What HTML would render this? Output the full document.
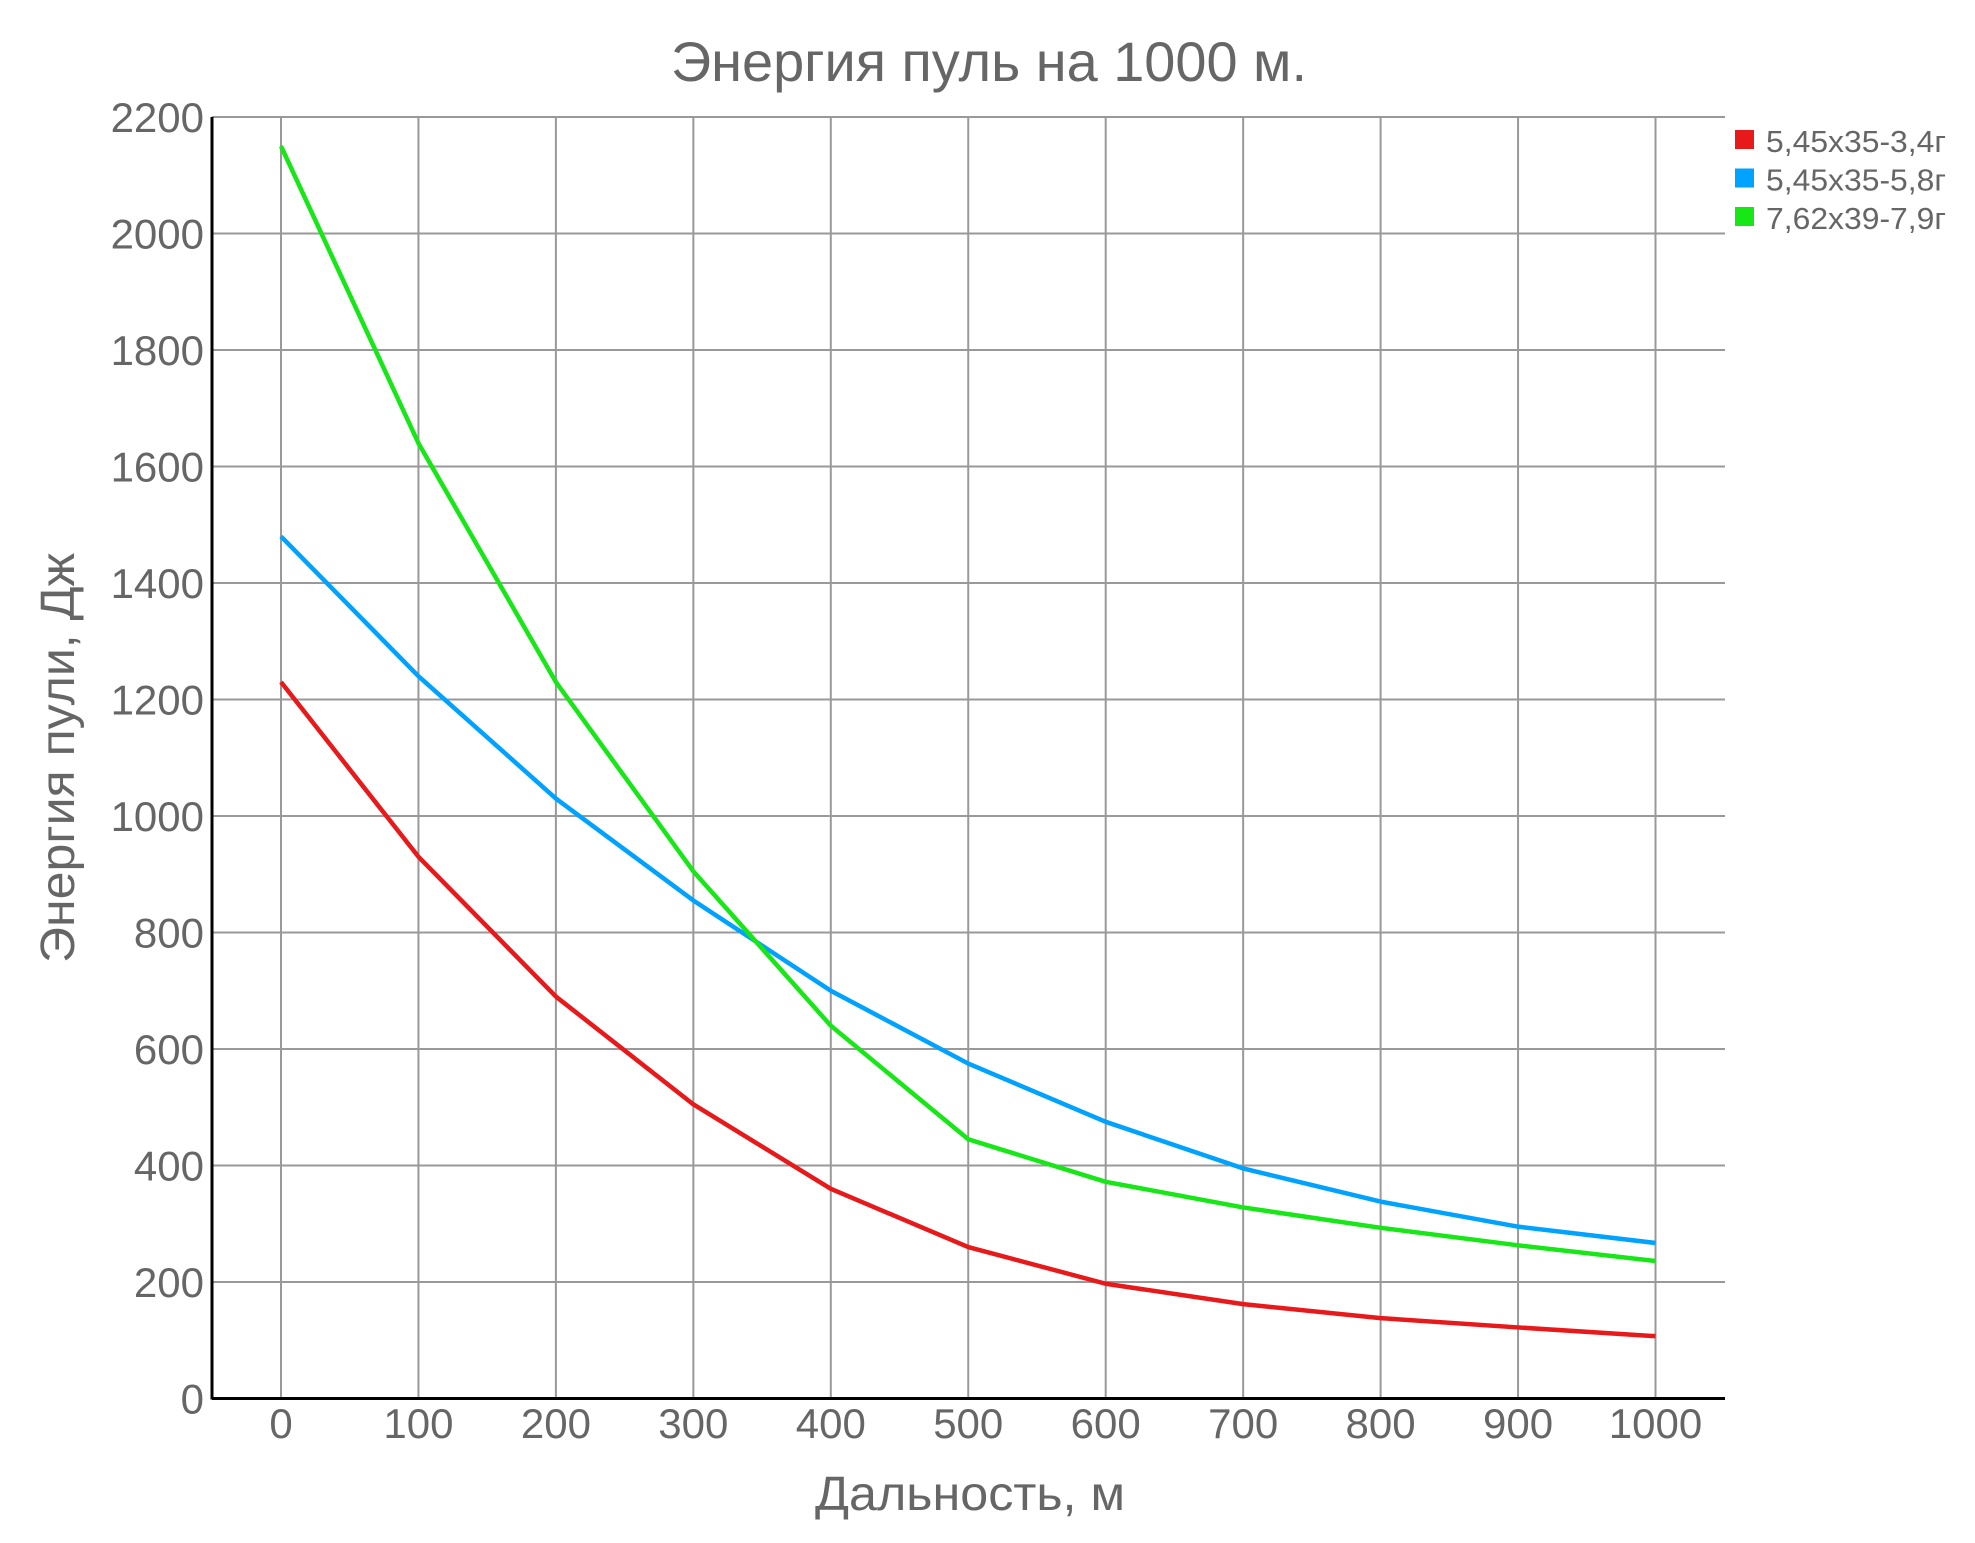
<!DOCTYPE html>
<html><head><meta charset="utf-8"><style>
html,body{margin:0;padding:0;background:#fff;}
svg{display:block;font-family:"Liberation Sans",sans-serif;}
</style></head><body>
<svg id="chart" width="1975" height="1543" viewBox="0 0 1975 1543" xmlns="http://www.w3.org/2000/svg">
<text x="989" y="81" text-anchor="middle" font-size="56" fill="#666" textLength="636" lengthAdjust="spacingAndGlyphs">Энергия пуль на 1000 м.</text>
<g id="grid"></g>
<g id="series"></g>
<g id="axes"></g>
<text x="970" y="1510" text-anchor="middle" font-size="48" fill="#666" textLength="310" lengthAdjust="spacingAndGlyphs">Дальность, м</text>
<text transform="translate(74,758) rotate(-90)" text-anchor="middle" font-size="48" fill="#666" textLength="410" lengthAdjust="spacingAndGlyphs">Энергия пули, Дж</text>
<g id="legend"></g>
</svg>
<script>
const categories = [0,100,200,300,400,500,600,700,800,900,1000];
const yTicks = [0,200,400,600,800,1000,1200,1400,1600,1800,2000,2200];
const seriesNames = ["5,45x35-3,4г","5,45x35-5,8г","7,62x39-7,9г"];
const seriesColors = ["#e8191a","#00a2ff","#17e617"];
const red = [1230,930,690,505,360,260,197,162,138,122,107];
const blue = [1480,1240,1030,855,700,575,475,395,338,295,267];
const green = [2150,1640,1230,905,640,445,372,328,293,263,236];
const allSeries = [red, blue, green];

const NS = "http://www.w3.org/2000/svg";
const X0 = 281, XS = 1.3745, Y0 = 1398.5, YS = 0.5825;
const L = 212, R = 1725, T = 117;
function xPos(v){return X0 + v*XS;}
function yPos(v){return Y0 - v*YS;}
function mk(tag, attrs, parent){const e=document.createElementNS(NS,tag);for(const k in attrs)e.setAttribute(k,attrs[k]);parent.appendChild(e);return e;}

const grid=document.getElementById('grid'), axes=document.getElementById('axes'), ser=document.getElementById('series'), leg=document.getElementById('legend');
yTicks.forEach(t=>{
  if(t>0){const g=mk('line',{x1:L,x2:R,y1:yPos(t),y2:yPos(t),stroke:'#999','stroke-width':2},grid);
  
  }
  const lb=mk('text',{x:204,y:yPos(t)+15,'text-anchor':'end','font-size':42,fill:'#666'},axes);
  lb.textContent=t;
  
  
});
categories.forEach(c=>{
  const g=mk('line',{x1:xPos(c),x2:xPos(c),y1:T,y2:Y0,stroke:'#999','stroke-width':2},grid);
  
  
  const lb=mk('text',{x:xPos(c),y:1438,'text-anchor':'middle','font-size':42,fill:'#666'},axes);
  lb.textContent=c;
  
  
});
const xa=mk('line',{x1:L,x2:R,y1:Y0,y2:Y0,stroke:'#000','stroke-width':3},axes);


const ya=mk('line',{x1:L,x2:L,y1:T,y2:Y0+1,stroke:'#000','stroke-width':3},axes);



allSeries.forEach((s,i)=>{
  const pts=s.map((v,j)=>xPos(categories[j])+','+yPos(v)).join(' ');
  const p=mk('polyline',{points:pts,fill:'none',stroke:seriesColors[i],'stroke-width':4.5,'stroke-linejoin':'round'},ser);
  
  
  const ly=140+i*38.5;
  const sq=mk('rect',{x:1735,y:ly-10,width:19,height:19,fill:seriesColors[i]},leg);
  
  
  const lt=mk('text',{x:1766,y:ly+12,'font-size':31,fill:'#666',textLength:180,lengthAdjust:'spacingAndGlyphs'},leg);
  lt.textContent=seriesNames[i];
  
  
});
</script>
</body></html>
